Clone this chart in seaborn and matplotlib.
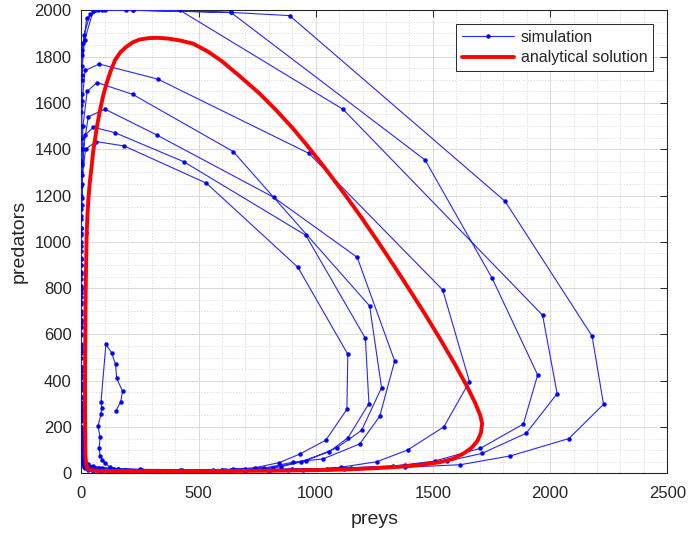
import numpy as np
import pandas as pd
import matplotlib
matplotlib.use("Agg")
import matplotlib.pyplot as plt
import seaborn as sns
from matplotlib.ticker import MultipleLocator

# ---------------- simulation path (preys, predators), per loop ----------------
loop0 = [(148, 270), (168, 309), (176, 355), (151, 410), (146, 471), (129, 521), (105, 557), (84, 309),
         (87, 283), (84, 255), (71, 204), (80, 157), (76, 109), (80, 75), (90, 57), (101, 43), (122, 27),
         (136, 20), (158, 19), (186, 14), (220, 12), (263, 11), (314, 10), (365, 10), (421, 10), (485, 11),
         (557, 12), (613, 14), (648, 18), (740, 24), (844, 46), (932, 83), (1043, 143), (1133, 276),
         (1137, 514), (924, 890), (534, 1253), (183, 1414), (63, 1433)]

loop1 = [(18, 1400), (5, 1289), (1.5, 1160), (0.6, 1058), (0.3, 924), (0.2, 799), (0.2, 662), (0.2, 528),
         (0.25, 425), (0.3, 330), (0.4, 250), (0.6, 190), (0.9, 140), (1.4, 100), (2.2, 72), (3.5, 52),
         (6, 38), (10, 28), (17, 21), (29, 16), (50, 12), (85, 10), (140, 9), (230, 9), (370, 10),
         (560, 14), (818, 24), (936, 50), (1057, 93), (1138, 154), (1227, 301), (1212, 583), (958, 1028),
         (437, 1346), (142, 1472), (51, 1495)]

loop2 = [(15, 1460), (4, 1330), (1.2, 1190), (0.4, 1060), (0.2, 930), (0.1, 810), (0.1, 700), (0.1, 597),
         (0.12, 500), (0.18, 410), (0.3, 330), (0.5, 260), (0.8, 200), (1.3, 150), (2.2, 110), (3.6, 80),
         (6, 58), (10, 42), (17, 30), (29, 22), (50, 16), (85, 12), (145, 10), (245, 10), (400, 11),
         (600, 15), (780, 22), (903, 48), (1031, 62), (1188, 127), (1273, 246), (1337, 485), (1177, 933),
         (821, 1192), (321, 1462), (101, 1573)]

loop3 = [(30, 1540), (8, 1400), (2.5, 1250), (0.8, 1110), (0.3, 980), (0.15, 860), (0.1, 740), (0.1, 630),
         (0.1, 530), (0.15, 440), (0.25, 360), (0.4, 288), (0.7, 228), (1.2, 178), (2, 137), (3.4, 104),
         (5.8, 78), (10, 58), (17, 43), (29, 32), (50, 24), (85, 18), (145, 14), (245, 12), (400, 12),
         (600, 14), (740, 20), (850, 28), (960, 55), (1090, 110), (1196, 186), (1281, 370), (1230, 723),
         (648, 1390), (219, 1637), (67, 1688)]

loop4 = [(25, 1650), (7, 1500), (2, 1340), (0.6, 1190), (0.2, 1040), (0.1, 900), (0.05, 780), (0.05, 660),
         (0.05, 560), (0.08, 460), (0.12, 370), (0.2, 300), (0.35, 240), (0.6, 190), (1, 148), (1.7, 115),
         (3, 88), (5, 67), (8.5, 50), (14, 37), (24, 28), (40, 21), (68, 16), (115, 12), (195, 10),
         (330, 9), (520, 9), (700, 10), (800, 11), (946, 14), (1106, 26), (1261, 50), (1393, 101),
         (1547, 201), (1656, 396), (1542, 792), (971, 1382), (326, 1703), (76, 1768)]

loop5 = [(16, 1740), (4, 1610), (1, 1450), (0.3, 1290), (0.1, 1140), (0.05, 1000), (0.03, 870),
         (0.02, 760), (0.02, 650), (0.02, 550), (0.03, 460), (0.05, 380), (0.08, 310), (0.14, 250),
         (0.25, 200), (0.45, 158), (0.8, 124), (1.4, 96), (2.5, 74), (4.5, 57), (8, 44), (14, 34), (25, 26),
         (45, 20), (80, 15), (140, 12), (240, 10), (400, 9), (620, 10), (880, 13), (1120, 20), (1330, 30),
         (1507, 53), (1703, 108), (1886, 213), (1947, 425), (1753, 842), (1467, 1353), (638, 1991),
         (222, 2000), (72, 2000), (23, 1965)]

loop6 = [(9, 1857), (3, 1807), (1, 1700), (0.3, 1560), (0.1, 1400), (0.04, 1240), (0.02, 1100),
         (0.01, 960), (0.01, 840), (0.01, 730), (0.015, 630), (0.02, 540), (0.04, 460), (0.07, 390),
         (0.12, 330), (0.2, 275), (0.35, 230), (0.6, 190), (1, 155), (1.8, 126), (3.2, 100), (5.6, 80),
         (10, 63), (17, 50), (30, 39), (52, 31), (90, 25), (155, 20), (260, 16), (420, 14), (640, 14),
         (900, 17), (1150, 24), (1380, 35), (1560, 52), (1709, 86), (1898, 173), (2030, 344), (1968, 683),
         (1117, 1572), (421, 2000), (189, 2000), (87, 2000), (37, 1984)]

loop7 = [(12, 1893), (4, 1830), (1.2, 1720), (0.4, 1590), (0.12, 1450), (0.04, 1300), (0.015, 1160),
         (0.006, 1030), (0.003, 900), (0.002, 790), (0.002, 690), (0.002, 600), (0.003, 520), (0.005, 450),
         (0.009, 385), (0.016, 330), (0.03, 280), (0.055, 238), (0.1, 200), (0.18, 168), (0.33, 140),
         (0.6, 116), (1.1, 96), (2, 79), (3.7, 64), (6.8, 52), (12.5, 42), (23, 34), (42, 28), (76, 23),
         (140, 19), (250, 17), (430, 16), (700, 17), (1050, 20), (1380, 26), (1616, 37), (1830, 75),
         (2080, 150), (2228, 298), (2179, 593), (1808, 1175), (889, 1977), (638, 1991), (222, 2000),
         (101, 2000), (51, 1999)]

loop8 = [(14, 1870), (4, 1760), (1.2, 1640), (0.3, 1500), (0.08, 1350), (0.02, 1200), (0.005, 1058),
         (0.002, 924), (0.001, 799), (0.001, 662), (0.001, 528)]

# ---------------- analytical closed orbit ----------------
an_prey = [23, 26, 30, 36, 44, 50, 58, 68, 80, 93, 108, 125, 144, 168, 193, 220, 250, 290, 328, 370,
           420, 477, 540, 600, 680, 761, 830, 900, 962, 1040, 1124, 1195, 1264, 1335, 1400, 1466, 1528,
           1590, 1643, 1680, 1702, 1710, 1705, 1690, 1665, 1630, 1585, 1530, 1460, 1380, 1290, 1190,
           1080, 950, 800, 640, 480, 330, 200, 120, 70, 45, 32, 25, 21, 18, 17, 16, 16, 17, 18, 20, 23]
an_pred = [1037, 1110, 1181, 1255, 1324, 1385, 1440, 1505, 1569, 1630, 1685, 1737, 1785, 1820, 1843,
           1862, 1874, 1880, 1881, 1878, 1870, 1856, 1822, 1780, 1712, 1640, 1570, 1493, 1418, 1318,
           1205, 1105, 1003, 895, 793, 688, 585, 478, 380, 305, 250, 215, 175, 140, 110, 85, 62, 48,
           38, 30, 24, 19, 15, 13, 11, 10, 9, 9, 9, 10, 11, 13, 16, 24, 40, 70, 130, 250, 400, 560,
           720, 880, 1037]

path = loop0 + loop1 + loop2 + loop3 + loop4 + loop5 + loop6 + loop7 + loop8
sim = pd.DataFrame(path, columns=["preys", "predators"])
ana = pd.DataFrame({"preys": an_prey, "predators": an_pred})

sns.set_theme(style="white")
plt.rcParams['font.family'] = ['Liberation Sans', 'DejaVu Sans']
dark = (0.15, 0.15, 0.15)

fig = plt.figure(figsize=(6.9, 5.36), dpi=100)
ax = fig.add_axes([81.3 / 690, 1 - 473.3 / 536, (667.3 - 81.3) / 690, (473.3 - 10.3) / 536])

sns.lineplot(data=sim, x="preys", y="predators", sort=False, estimator=None, ax=ax,
             color=(0.15, 0.15, 1.0), lw=0.8, marker="o", ms=3.2, mec=(0, 0, 1), mfc=(0, 0, 1),
             mew=0, label="simulation", zorder=3)
sns.lineplot(data=ana, x="preys", y="predators", sort=False, estimator=None, ax=ax,
             color=(1, 0, 0), lw=2.8, label="analytical solution", zorder=4)
ax.get_lines()[-1].set_solid_joinstyle("round")

ax.set_xlim(0, 2500)
ax.set_ylim(0, 2000)
ax.xaxis.set_major_locator(MultipleLocator(500))
ax.xaxis.set_minor_locator(MultipleLocator(100))
ax.yaxis.set_major_locator(MultipleLocator(200))
ax.yaxis.set_minor_locator(MultipleLocator(50))
ax.grid(True, which="major", color=(0.85, 0.85, 0.85), lw=0.7, ls="-", zorder=0)
ax.grid(True, which="minor", color=(0.86, 0.86, 0.86), lw=0.6, ls=(0, (1.5, 2)), zorder=0)
ax.set_axisbelow(True)
ax.tick_params(which="major", direction="in", length=5, width=0.7, color=dark, labelcolor=dark,
               labelsize=12, top=True, right=True)
ax.tick_params(axis="x", which="major", pad=9)
ax.tick_params(axis="y", which="major", pad=7)
ax.tick_params(which="minor", length=0)
for s in ax.spines.values():
    s.set_color(dark)
    s.set_linewidth(0.8)
ax.set_xlabel("preys", fontsize=14, color=dark, labelpad=7)
ax.set_ylabel("predators", fontsize=14, color=dark, labelpad=5)

leg = ax.legend(loc="upper right", bbox_to_anchor=(653 / 690, 1 - 24 / 536), bbox_transform=fig.transFigure,
                borderaxespad=0, fontsize=11.5, handlelength=3.3, fancybox=False, framealpha=1,
                edgecolor=dark, labelspacing=0.35, borderpad=0.35, handletextpad=0.4)
leg.get_frame().set_linewidth(0.7)
for t in leg.get_texts():
    t.set_color(dark)

fig.savefig("out.png", dpi=100)
